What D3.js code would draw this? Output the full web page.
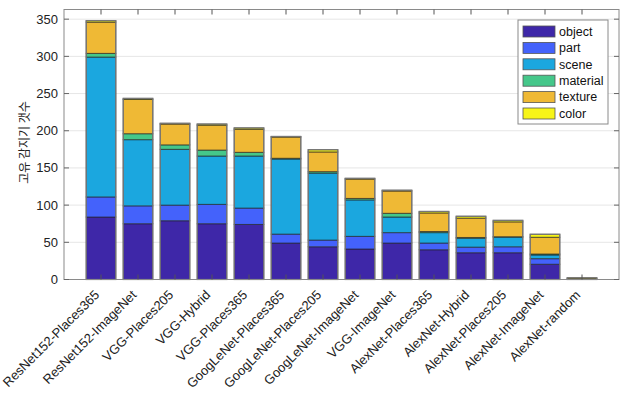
<!DOCTYPE html>
<html>
<head>
<meta charset="utf-8">
<script src="https://cdn.jsdelivr.net/npm/d3@7"></script>
<style>
  body { margin: 0; background: #fff; }
  text { font-family: "Liberation Sans", Arial, sans-serif; }
</style>
</head>
<body>
<svg id="chart" width="632" height="394"></svg>
<script>
// networks on the x axis
var models = ["ResNet152-Places365", "ResNet152-ImageNet", "VGG-Places205", "VGG-Hybrid",
    "VGG-Places365", "GoogLeNet-Places365", "GoogLeNet-Places205", "GoogLeNet-ImageNet",
    "VGG-ImageNet", "AlexNet-Places365", "AlexNet-Hybrid", "AlexNet-Places205",
    "AlexNet-ImageNet", "AlexNet-random"];

// unique detectors per concept category
var object   = [84, 75, 79, 75, 74, 49, 44, 41, 49, 40, 36, 36, 20.5, 0];
var part     = [27, 24, 21, 26, 22, 12, 9, 17, 14, 9, 7.5, 8, 7.5, 0];
var scene    = [188, 89, 75, 65, 70, 101, 90, 49, 21, 14, 12, 13, 5, 0];
var material = [5, 8, 6, 8, 5, 1, 2, 2, 5, 1.5, 1, 0.5, 1.3, 0];
var texture  = [42, 46, 28, 33.5, 31, 28.5, 26.5, 26, 30, 25, 26, 20, 22.5, 1.5];
var color    = [2, 1.5, 1, 1.5, 1.8, 0.8, 3, 1, 1, 2, 2.5, 2, 4, 0.8];

var yTicks = [0, 50, 100, 150, 200, 250, 300, 350];
var categories = ["object", "part", "scene", "material", "texture", "color"];
var colors = ["#3e27a8", "#4462fb", "#1ba7df", "#45c78a", "#efb935", "#f7f518"];

var series = { object: object, part: part, scene: scene, material: material, texture: texture, color: color };

var rows = models.map(function (m, i) {
    var r = { model: m, idx: i + 1 };
    categories.forEach(function (c) { r[c] = series[c][i]; });
    return r;
});

var margin = { top: 9.5, right: 13, bottom: 114.5, left: 64 };
var svgWidth = 632, svgHeight = 394;
var width = svgWidth - margin.left - margin.right;
var height = svgHeight - margin.top - margin.bottom;

var svg = d3.select("#chart");
var g = svg.append("g").attr("transform", `translate(${margin.left}, ${margin.top})`);

var x = d3.scaleLinear().domain([0, models.length + 1]).range([0, width]);
var y = d3.scaleLinear().domain([0, 363]).range([height, 0]);
var barW = (x(1) - x(0)) * 0.8;

// grid lines
g.selectAll(".grid")
    .data(yTicks.slice(1))
    .enter()
    .append("line")
    .attr("x1", 0).attr("x2", width)
    .attr("y1", d => y(d)).attr("y2", d => y(d))
    .attr("stroke", "#e6e6e6")
    .attr("stroke-width", 1);

// stacked bars
var stack = d3.stack().keys(categories)(rows);

g.selectAll(".layer")
    .data(stack)
    .enter()
    .append("g")
    .attr("fill", (d, i) => colors[i])
    .selectAll("rect")
    .data(d => d)
    .enter()
    .append("rect")
    .attr("x", d => x(d.data.idx) - barW / 2)
    .attr("width", barW)
    .attr("y", d => y(d[1]))
    .attr("height", d => Math.max(0, y(d[0]) - y(d[1])))
    .attr("stroke", "#222")
    .attr("stroke-opacity", 0.65)
    .attr("stroke-width", 1);

// outer outline of every bar
g.selectAll(".outline")
    .data(rows)
    .enter()
    .append("rect")
    .attr("x", d => x(d.idx) - barW / 2)
    .attr("width", barW)
    .attr("y", d => y(d3.sum(categories, c => d[c])))
    .attr("height", d => y(0) - y(d3.sum(categories, c => d[c])))
    .attr("fill", "none")
    .attr("stroke", "#777")
    .attr("stroke-width", 1.2);

// box
g.append("rect")
    .attr("x", 0).attr("y", 0)
    .attr("width", width).attr("height", height)
    .attr("fill", "none")
    .attr("stroke", "#8a8a8a")
    .attr("stroke-width", 1);

// inward ticks
var tl = 5;
yTicks.forEach(function (t) {
    g.append("line").attr("x1", 0).attr("x2", tl).attr("y1", y(t)).attr("y2", y(t)).attr("stroke", "#666");
    g.append("line").attr("x1", width).attr("x2", width - tl).attr("y1", y(t)).attr("y2", y(t)).attr("stroke", "#666");
});
rows.forEach(function (d) {
    g.append("line").attr("x1", x(d.idx)).attr("x2", x(d.idx)).attr("y1", height).attr("y2", height - tl).attr("stroke", "#555");
    g.append("line").attr("x1", x(d.idx)).attr("x2", x(d.idx)).attr("y1", 0).attr("y2", tl).attr("stroke", "#555");
});

// y tick labels
g.selectAll(".ylab")
    .data(yTicks)
    .enter()
    .append("text")
    .attr("x", -6)
    .attr("y", d => y(d))
    .attr("dy", "0.35em")
    .attr("text-anchor", "end")
    .style("font-size", "13px")
    .attr("fill", "#222")
    .text(d => d);

// x tick labels, rotated
g.selectAll(".xlab")
    .data(rows)
    .enter()
    .append("text")
    .attr("transform", d => `translate(${x(d.idx) - 4}, ${height + 13}) rotate(-45)`)
    .attr("text-anchor", "end")
    .attr("dy", "0.35em")
    .style("font-size", "13px")
    .attr("fill", "#222")
    .text(d => d.model);

// y axis title
svg.append("text")
    .attr("transform", `translate(29, ${margin.top + 133}) rotate(-90)`)
    .attr("text-anchor", "middle")
    .style("font-size", "12px")
    .style("font-family", "'Noto Sans CJK KR', sans-serif")
    .attr("fill", "#222")
    .text("고유 감지기 갯수");

// legend
var legend = svg.append("g").attr("transform", "translate(518, 20)");
legend.append("rect")
    .attr("width", 90).attr("height", 104)
    .attr("fill", "#fff")
    .attr("stroke", "#8a8a8a");

categories.forEach(function (c, i) {
    var row = legend.append("g").attr("transform", `translate(5, ${6 + i * 16.4})`);
    row.append("rect")
        .attr("width", 32).attr("height", 11)
        .attr("fill", colors[i])
        .attr("stroke", "#555")
        .attr("stroke-width", 0.8);
    row.append("text")
        .attr("x", 36).attr("y", 5.5)
        .attr("dy", "0.35em")
        .style("font-size", "12.5px")
        .attr("fill", "#111")
        .text(c);
});
</script>
</body>
</html>
